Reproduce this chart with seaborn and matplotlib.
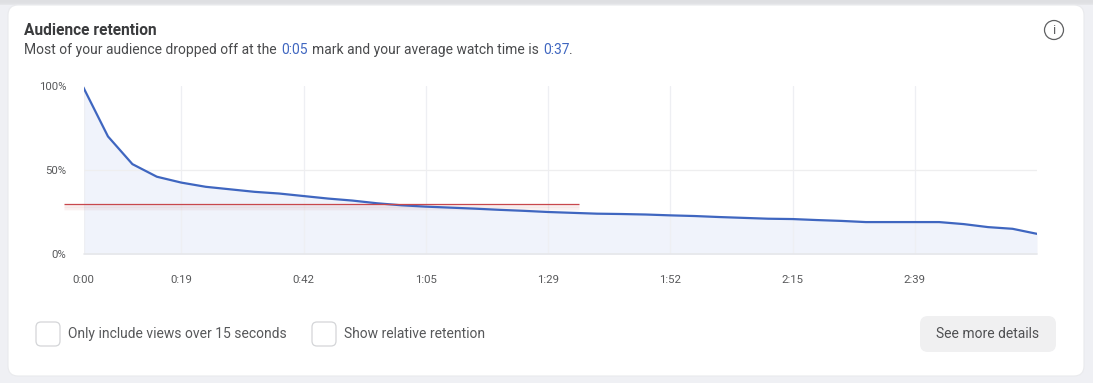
import matplotlib
matplotlib.use("Agg")
import matplotlib.pyplot as plt
from matplotlib.patches import FancyBboxPatch, Circle, Rectangle
import seaborn as sns
import numpy as np

W, H = 1093, 383

sample_index = list(range(40))
retention = [99, 70, 53.5, 46, 42.5, 40, 38.5, 37, 36, 34.5,
             33, 31.8, 30.2, 29.0, 28.2, 27.6, 27, 26.3, 25.7, 25,
             24.5, 24, 23.8, 23.5, 23, 22.6, 22, 21.5, 21, 20.8,
             20.2, 19.7, 19, 19, 19, 19, 17.8, 16, 15, 12]
tick_index = [0, 4, 9, 14, 19, 24, 29, 34]
tick_labels = ["0:00", "0:19", "0:42", "1:05", "1:29", "1:52", "2:15", "2:39"]
y_ticks = [0, 50, 100]
y_labels = ["0%", "50%", "100%"]
average_level = 29.6
average_span = [-0.78, 20.25]

BLUE = "#3f66c0"
TEXT = "#4a4b4d"
sns.set_theme(style="white")
plt.rcParams["font.family"] = ["Roboto", "DejaVu Sans"]

fig = plt.figure(figsize=(W / 100, H / 100), dpi=100, facecolor="#eff0f4")

# page furniture in pixel coordinates
bg = fig.add_axes([0, 0, 1, 1], zorder=0)
bg.set_xlim(0, W); bg.set_ylim(H, 0); bg.axis("off")
for y, c in zip(range(0, 5), ["#dedfe2", "#dedfe2", "#dfe0e3", "#e1e2e5", "#e5e6e9"]):
    bg.add_patch(Rectangle((0, y), W, 1, fc=c, ec="none"))
bg.add_patch(FancyBboxPatch((8, 5), 1076, 371, boxstyle="round,pad=0,rounding_size=10",
                            fc="white", ec="#e9eaed", lw=0.8))
bg.text(24, 30.7, "Audience retention", fontsize=11.2, fontweight="bold", color="#3a3b3d", va="center")
for x, s, c in [(24, "Most of your audience dropped off at the", TEXT), (281, "0:05", BLUE),
                (312, "mark and your average watch time is", TEXT), (543, "0:37", BLUE),
                (569, ".", TEXT)]:
    bg.text(x, 49.7, s, fontsize=10, color=c, va="center")
bg.add_patch(Circle((1054, 30), 9.5, fc="none", ec="#5f6062", lw=0.9))
bg.text(1054, 30.5, "i", fontsize=9.5, color="#5f6062", ha="center", va="center")
for x in [36, 312]:
    bg.add_patch(FancyBboxPatch((x, 322), 24, 24, boxstyle="round,pad=0,rounding_size=5",
                                fc="white", ec="#d4d5d8", lw=0.9))
bg.text(68, 334.2, "Only include views over 15 seconds", fontsize=10, color="#57585a", va="center")
bg.text(344, 334.2, "Show relative retention", fontsize=10, color="#57585a", va="center")
bg.add_patch(FancyBboxPatch((920, 316), 136, 36, boxstyle="round,pad=0,rounding_size=8",
                            fc="#f0f0f1", ec="none"))
bg.text(988, 334.2, "See more details", fontsize=10, color="#4f5052", ha="center", va="center")

# chart
L, R, T, B = 83.5, 1037, 86, 254
ax = fig.add_axes([L / W, 1 - B / H, (R - L) / W, (B - T) / H], zorder=1)
ax.patch.set_alpha(0)
ax.fill_between(sample_index, retention, 0, color="#f0f3fb", lw=0, zorder=1)
ax.grid(False)
for t in tick_index:
    ax.axvline(t, color="#eeeff3", lw=0.9, zorder=1.5)
ax.axhline(50, color="#eeeeef", lw=0.9, zorder=1.5)
ax.axhline(0, color="#e6e7ea", lw=1.2, zorder=1.5, clip_on=False)
for i, a in zip([1.0, 2.0, 3.0], [0.10, 0.06, 0.03]):
    ax.plot(average_span, [average_level - i, average_level - i], color="#c06060", lw=2.0,
            alpha=a, clip_on=False, zorder=2, solid_capstyle="butt")
sns.lineplot(x=sample_index, y=retention, ax=ax, color=BLUE, lw=1.6, zorder=3, errorbar=None)
ax.plot(average_span, [average_level, average_level], color="#c8474c", lw=0.9,
        clip_on=False, zorder=4, solid_capstyle="butt")
ax.set_xlim(0, 39); ax.set_ylim(0, 100)
ax.set_xticks(tick_index, tick_labels, fontsize=8.2, color="#58595b")
ax.set_yticks(y_ticks, y_labels, fontsize=8.2, color="#58595b")
ax.tick_params(axis="x", length=0, pad=15)
ax.tick_params(axis="y", length=0, pad=12.5)
ax.set_xlabel(""); ax.set_ylabel("")
sns.despine(ax=ax, left=True, bottom=True)
for s in ax.spines.values():
    s.set_visible(False)

fig.savefig("out.png", dpi=100, facecolor=fig.get_facecolor())
